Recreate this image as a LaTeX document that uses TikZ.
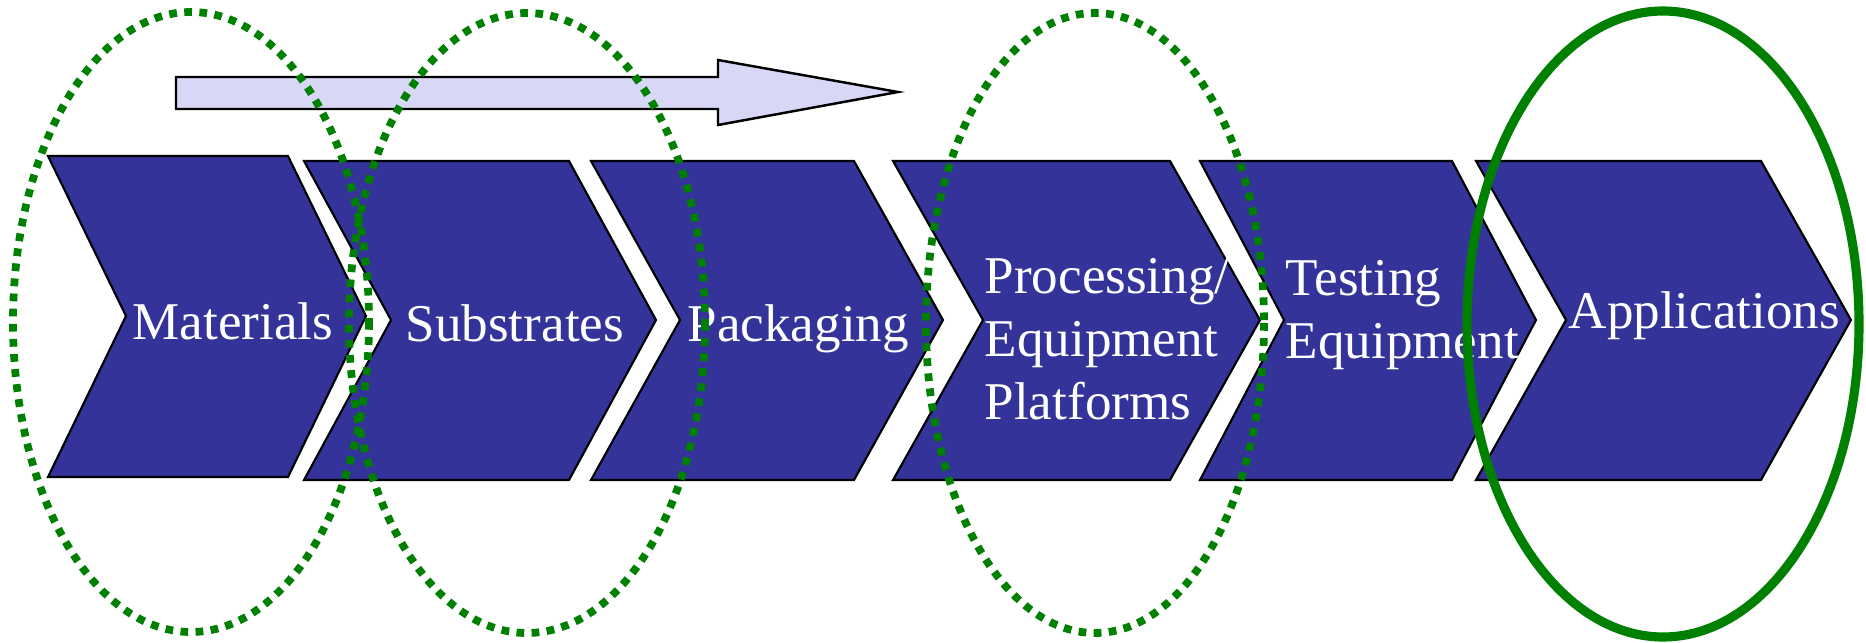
\documentclass[tikz,border=0pt]{standalone}
\usepackage{fontspec}
\setmainfont{Liberation Serif}
\definecolor{chevblue}{RGB}{51,51,153}
\definecolor{ringgreen}{RGB}{0,128,0}
\definecolor{arrowfill}{RGB}{216,216,246}
\begin{document}
\begin{tikzpicture}[x=0.01cm,y=-0.01cm,
  chev/.style={draw=black,line width=0.6pt,fill=chevblue},
  lbl/.style={text=white,anchor=base west,inner sep=0pt,align=left,font=\fontsize{15.1}{17.8}\selectfont},
  ring/.style={draw=ringgreen,line width=2.2pt,dash pattern=on 2.2pt off 2.1pt},
  bigring/.style={draw=ringgreen,line width=2.6pt}]
\useasboundingbox (0,0) rectangle (1866,642);
\draw[line width=0.7pt,fill=arrowfill] (176,77) -- (718,77) -- (718,60) -- (898,92) -- (718,125) -- (718,109) -- (176,109) -- cycle;
\draw[chev] (48,156) -- (288,156) -- (366,316) -- (288,477) -- (48,477) -- (126,316) -- cycle;
\draw[chev] (304,161) -- (569,161) -- (656,320) -- (569,480) -- (304,480) -- (391,320) -- cycle;
\draw[chev] (591,161) -- (854,161) -- (943,320) -- (854,480) -- (591,480) -- (680,320) -- cycle;
\draw[chev] (893,161) -- (1170,161) -- (1260,320) -- (1170,480) -- (893,480) -- (983,320) -- cycle;
\draw[chev] (1200,161) -- (1452,161) -- (1536,320) -- (1452,480) -- (1200,480) -- (1284,320) -- cycle;
\draw[chev] (1476,161) -- (1761,161) -- (1851,320) -- (1761,480) -- (1476,480) -- (1566,320) -- cycle;
\node[lbl] (mat) at (132,339) {Materials};
\node[lbl] (sub) at (405,341) {Substrates};
\node[lbl] (pack) at (687,341) {Packaging};
\node[lbl] (proc) at (984,419) {Processing/\\Equipment\\Platforms};
\node[lbl] (test) at (1285,358) {Testing\\Equipment};
\node[lbl] (app) at (1568,328) {Applications};
\draw[ring] (191,322) ellipse [x radius=178, y radius=310];
\draw[ring] (527,323) ellipse [x radius=178, y radius=310];
\draw[ring] (1095,323) ellipse [x radius=169, y radius=310];
\draw[bigring] (1663,324) ellipse [x radius=196, y radius=313];
\end{tikzpicture}
\end{document}
